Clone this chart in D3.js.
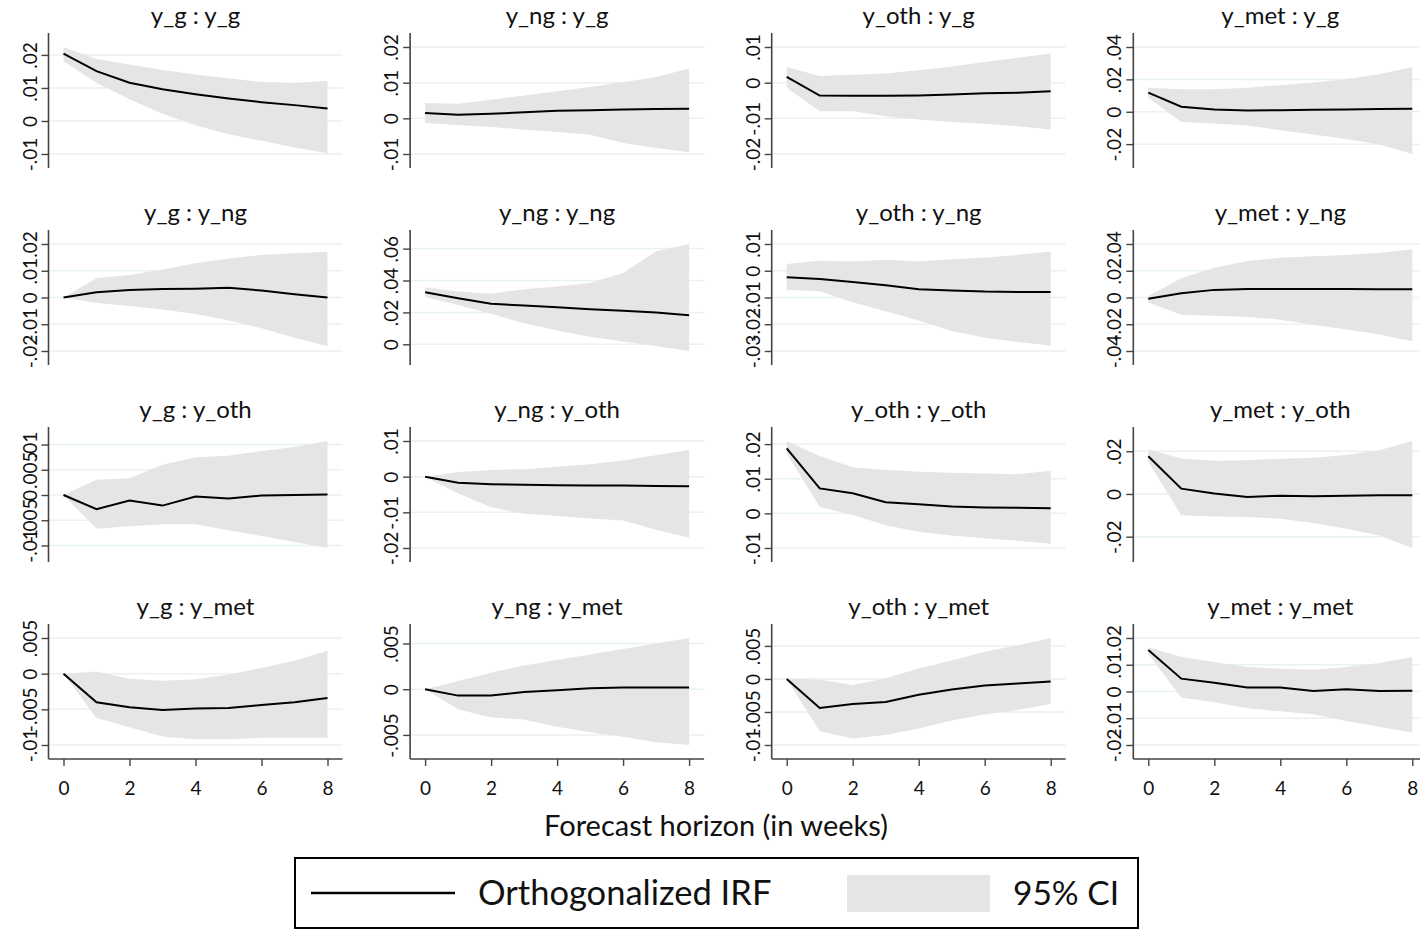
<!DOCTYPE html>
<html>
<head>
<meta charset="utf-8">
<title>Orthogonalized IRF</title>
<script src="https://cdn.jsdelivr.net/npm/d3@7"></script>
<style>
  body { margin: 0; background: #fff; }
  text { font-family: Lato, "Open Sans", sans-serif; fill: #111; }
</style>
</head>
<body>
<script>
  const horizon = [0, 1, 2, 3, 4, 5, 6, 7, 8];
  const impulses = ['y_g', 'y_ng', 'y_oth', 'y_met'];
  const responses = ['y_g', 'y_ng', 'y_oth', 'y_met'];
  const xTicks = [0, 2, 4, 6, 8];

  // response y_g
  const irf_g_g = [0.0204, 0.0151, 0.0116, 0.0096, 0.0081, 0.0068, 0.0057, 0.0048, 0.0038];
  const hi_g_g = [0.0224, 0.0188, 0.0171, 0.0154, 0.0141, 0.0129, 0.0118, 0.0116, 0.0121];
  const lo_g_g = [0.0181, 0.0116, 0.0066, 0.0022, -0.0013, -0.0040, -0.0060, -0.0080, -0.0098];
  const irf_ng_g = [0.0015, 0.0010, 0.0013, 0.0017, 0.0021, 0.0023, 0.0025, 0.0026, 0.0027];
  const hi_ng_g = [0.0043, 0.0041, 0.0052, 0.0064, 0.0076, 0.0088, 0.0101, 0.0116, 0.0140];
  const lo_ng_g = [-0.0013, -0.0019, -0.0024, -0.0032, -0.0038, -0.0046, -0.0069, -0.0083, -0.0095];
  const irf_oth_g = [0.0016, -0.0036, -0.0037, -0.0037, -0.0036, -0.0033, -0.0030, -0.0028, -0.0024];
  const hi_oth_g = [0.0044, 0.0019, 0.0022, 0.0026, 0.0035, 0.0045, 0.0058, 0.0070, 0.0082];
  const lo_oth_g = [-0.0014, -0.0080, -0.0080, -0.0094, -0.0103, -0.0110, -0.0115, -0.0122, -0.0131];
  const irf_met_g = [0.0118, 0.0031, 0.0014, 0.0008, 0.0010, 0.0012, 0.0014, 0.0017, 0.0019];
  const hi_met_g = [0.0149, 0.0139, 0.0139, 0.0149, 0.0164, 0.0180, 0.0201, 0.0232, 0.0277];
  const lo_met_g = [0.0087, -0.0064, -0.0072, -0.0085, -0.0114, -0.0141, -0.0168, -0.0203, -0.0261];

  // response y_ng
  const irf_g_ng = [0, 0.0020, 0.0028, 0.0032, 0.0033, 0.0036, 0.0026, 0.0012, 0.0000];
  const hi_g_ng = [0, 0.0072, 0.0084, 0.0105, 0.0128, 0.0146, 0.0159, 0.0165, 0.0171];
  const lo_g_ng = [0, -0.0021, -0.0032, -0.0045, -0.0062, -0.0085, -0.0115, -0.0150, -0.0182];
  const irf_ng_ng = [0.0327, 0.0289, 0.0254, 0.0243, 0.0233, 0.0220, 0.0210, 0.0199, 0.0182];
  const hi_ng_ng = [0.0358, 0.0331, 0.0317, 0.0346, 0.0363, 0.0384, 0.0447, 0.0583, 0.0629];
  const lo_ng_ng = [0.0296, 0.0247, 0.0191, 0.0132, 0.0086, 0.0048, 0.0017, -0.0010, -0.0042];
  const irf_oth_ng = [-0.0024, -0.0031, -0.0042, -0.0054, -0.0069, -0.0074, -0.0078, -0.0079, -0.0079];
  const hi_oth_ng = [0.0025, 0.0037, 0.0035, 0.0041, 0.0035, 0.0043, 0.0050, 0.0059, 0.0072];
  const lo_oth_ng = [-0.0071, -0.0077, -0.0118, -0.0151, -0.0186, -0.0225, -0.0250, -0.0266, -0.0279];
  const irf_met_ng = [-0.0010, 0.0032, 0.0057, 0.0064, 0.0064, 0.0064, 0.0064, 0.0062, 0.0062];
  const hi_met_ng = [0.0012, 0.0144, 0.0223, 0.0272, 0.0297, 0.0309, 0.0317, 0.0334, 0.0361];
  const lo_met_ng = [-0.0037, -0.0129, -0.0136, -0.0146, -0.0166, -0.0203, -0.0240, -0.0277, -0.0327];

  // response y_oth
  const irf_g_oth = [0, -0.0028, -0.0011, -0.0021, -0.0003, -0.0007, -0.0001, 0.0000, 0.0001];
  const hi_g_oth = [0, 0.0030, 0.0033, 0.0060, 0.0075, 0.0078, 0.0087, 0.0095, 0.0107];
  const lo_g_oth = [0, -0.0067, -0.0062, -0.0058, -0.0058, -0.0070, -0.0081, -0.0093, -0.0105];
  const irf_ng_oth = [0, -0.0017, -0.0021, -0.0023, -0.0024, -0.0025, -0.0025, -0.0026, -0.0027];
  const hi_ng_oth = [0, 0.0013, 0.0019, 0.0021, 0.0028, 0.0035, 0.0045, 0.0060, 0.0075];
  const lo_ng_oth = [0, -0.0047, -0.0086, -0.0104, -0.0110, -0.0117, -0.0123, -0.0149, -0.0171];
  const irf_oth_oth = [0.0188, 0.0072, 0.0058, 0.0032, 0.0026, 0.0020, 0.0017, 0.0016, 0.0015];
  const hi_oth_oth = [0.0209, 0.0166, 0.0133, 0.0125, 0.0120, 0.0117, 0.0115, 0.0113, 0.0123];
  const lo_oth_oth = [0.0173, 0.0019, -0.0005, -0.0034, -0.0053, -0.0064, -0.0072, -0.0079, -0.0088];
  const irf_met_oth = [0.0177, 0.0025, 0.0002, -0.0014, -0.0008, -0.0011, -0.0008, -0.0006, -0.0006];
  const hi_met_oth = [0.0209, 0.0166, 0.0155, 0.0158, 0.0165, 0.0169, 0.0182, 0.0205, 0.0248];
  const lo_met_oth = [0.0151, -0.0100, -0.0105, -0.0108, -0.0116, -0.0136, -0.0163, -0.0195, -0.0253];

  // response y_met
  const irf_g_met = [0, -0.0040, -0.0047, -0.0051, -0.0049, -0.0048, -0.0044, -0.0040, -0.0034];
  const hi_g_met = [0, 0.0003, -0.0007, -0.0010, -0.0008, -0.0001, 0.0008, 0.0018, 0.0032];
  const lo_g_met = [0, -0.0062, -0.0075, -0.0088, -0.0092, -0.0092, -0.0090, -0.0090, -0.0090];
  const irf_ng_met = [0, -0.0007, -0.0007, -0.0003, -0.0001, 0.0001, 0.0002, 0.0002, 0.0002];
  const hi_ng_met = [0, 0.0009, 0.0018, 0.0026, 0.0032, 0.0038, 0.0044, 0.0050, 0.0056];
  const lo_ng_met = [0, -0.0022, -0.0031, -0.0033, -0.0041, -0.0047, -0.0052, -0.0058, -0.0061];
  const irf_oth_met = [0, -0.0044, -0.0038, -0.0035, -0.0024, -0.0016, -0.0010, -0.0007, -0.0004];
  const hi_oth_met = [0, -0.0001, -0.0009, 0.0001, 0.0016, 0.0028, 0.0041, 0.0051, 0.0062];
  const lo_oth_met = [0, -0.0079, -0.0090, -0.0085, -0.0075, -0.0063, -0.0054, -0.0047, -0.0038];
  const irf_met_met = [0.0155, 0.0048, 0.0033, 0.0015, 0.0015, 0.0002, 0.0008, 0.0002, 0.0003];
  const hi_met_met = [0.0165, 0.0129, 0.0110, 0.0092, 0.0085, 0.0081, 0.0092, 0.0107, 0.0129];
  const lo_met_met = [0.0140, -0.0022, -0.0040, -0.0063, -0.0074, -0.0085, -0.0110, -0.0132, -0.0154];

  // y tick values, one row per response, one entry per impulse
  const yTicks_g = [[-.01, 0, .01, .02], [-.01, 0, .01, .02], [-.02, -.01, 0, .01], [-.02, 0, .02, .04]];
  const yTicks_ng = [[-.02, -.01, 0, .01, .02], [0, .02, .04, .06], [-.03, -.02, -.01, 0, .01], [-.04, -.02, 0, .02, .04]];
  const yTicks_oth = [[-.01, -.005, 0, .005, .01], [-.02, -.01, 0, .01], [-.01, 0, .01, .02], [-.02, 0, .02]];
  const yTicks_met = [[-.01, -.005, 0, .005], [-.005, 0, .005], [-.01, -.005, 0, .005], [-.02, -.01, 0, .01, .02]];

  const grid = [
    [[irf_g_g, lo_g_g, hi_g_g], [irf_ng_g, lo_ng_g, hi_ng_g], [irf_oth_g, lo_oth_g, hi_oth_g], [irf_met_g, lo_met_g, hi_met_g]],
    [[irf_g_ng, lo_g_ng, hi_g_ng], [irf_ng_ng, lo_ng_ng, hi_ng_ng], [irf_oth_ng, lo_oth_ng, hi_oth_ng], [irf_met_ng, lo_met_ng, hi_met_ng]],
    [[irf_g_oth, lo_g_oth, hi_g_oth], [irf_ng_oth, lo_ng_oth, hi_ng_oth], [irf_oth_oth, lo_oth_oth, hi_oth_oth], [irf_met_oth, lo_met_oth, hi_met_oth]],
    [[irf_g_met, lo_g_met, hi_g_met], [irf_ng_met, lo_ng_met, hi_ng_met], [irf_oth_met, lo_oth_met, hi_oth_met], [irf_met_met, lo_met_met, hi_met_met]]
  ];
  const tickRows = [yTicks_g, yTicks_ng, yTicks_oth, yTicks_met];

  const width = 1420, height = 930;
  const colX0 = 48.5, colStep = 361.6;
  const rowY0 = 33, rowStep = 197, panelH = 135, pad = 14;

  const svg = d3.select('body').append('svg')
    .attr('width', width)
    .attr('height', height);

  // Stata style labels: .02 instead of 0.02
  function stataFmt(v) {
    return String(v).replace('0.', '.');
  }

  responses.forEach(function (resp, r) {
    impulses.forEach(function (imp, c) {
      const ax = colX0 + c * colStep;
      const top = rowY0 + r * rowStep;
      const [irf, lo, hi] = grid[r][c];
      const ticks = tickRows[r][c];

      const x = d3.scaleLinear().domain([0, 8]).range([ax + 15, ax + 279]);
      const ymin = d3.min([...ticks, ...lo]);
      const ymax = d3.max([...ticks, ...hi]);
      const y = d3.scaleLinear().domain([ymin, ymax]).range([top + panelH - pad, top + pad]);

      const g = svg.append('g');

      // gridlines
      g.selectAll('line.grid').data(ticks).enter()
        .append('line')
        .attr('x1', ax).attr('x2', ax + 294)
        .attr('y1', d => y(d)).attr('y2', d => y(d))
        .attr('stroke', '#e8f1f3')
        .attr('stroke-width', 1.5);

      // CI band
      const area = d3.area()
        .x((d, i) => x(horizon[i]))
        .y0((d, i) => y(lo[i]))
        .y1((d, i) => y(hi[i]));
      g.append('path').datum(horizon)
        .attr('d', area)
        .attr('fill', '#e5e5e5');

      // IRF line
      const line = d3.line()
        .x((d, i) => x(horizon[i]))
        .y((d, i) => y(irf[i]));
      g.append('path').datum(horizon)
        .attr('d', line)
        .attr('fill', 'none')
        .attr('stroke', '#000')
        .attr('stroke-width', 2);

      // y axis
      const yAxis = d3.axisLeft(y).tickValues(ticks).tickSize(7).tickFormat(stataFmt);
      const ya = g.append('g').attr('transform', `translate(${ax},0)`).call(yAxis);
      ya.select('.domain').remove();
      ya.selectAll('.tick line').attr('stroke', '#444').attr('stroke-width', 1.4);
      ya.selectAll('.tick text')
        .attr('x', 0).attr('dy', 0).attr('y', -12)
        .attr('transform', 'rotate(-90)')
        .attr('text-anchor', 'middle')
        .attr('font-size', 19)
        .attr('font-family', 'Lato, sans-serif')
        .attr('fill', '#111');
      g.append('line')
        .attr('x1', ax).attr('x2', ax)
        .attr('y1', top).attr('y2', top + panelH)
        .attr('stroke', '#444').attr('stroke-width', 1.6);

      // panel title
      g.append('text')
        .attr('x', (x(0) + x(8)) / 2)
        .attr('y', top - 9)
        .attr('text-anchor', 'middle')
        .attr('font-size', 24)
        .text(imp + ' : ' + resp);

      // x axis on bottom row only
      if (r === responses.length - 1) {
        const xAxis = d3.axisBottom(x).tickValues(xTicks).tickSize(7);
        const xa = g.append('g').attr('transform', `translate(0,${top + panelH})`).call(xAxis);
        xa.select('.domain').remove();
        xa.selectAll('.tick line').attr('stroke', '#444').attr('stroke-width', 1.4);
        xa.selectAll('.tick text')
          .attr('y', 29).attr('dy', '0.35em')
          .attr('font-size', 19)
          .attr('font-family', 'Lato, sans-serif')
          .attr('fill', '#111');
        g.append('line')
          .attr('x1', ax).attr('x2', ax + 294)
          .attr('y1', top + panelH).attr('y2', top + panelH)
          .attr('stroke', '#444').attr('stroke-width', 1.6);
      }
    });
  });

  // x axis title
  svg.append('text')
    .attr('x', 716).attr('y', 836)
    .attr('text-anchor', 'middle')
    .attr('font-size', 29)
    .text('Forecast horizon (in weeks)');

  // legend
  const leg = svg.append('g');
  leg.append('rect')
    .attr('x', 295).attr('y', 858).attr('width', 843).attr('height', 70)
    .attr('fill', '#fff').attr('stroke', '#000').attr('stroke-width', 2);
  leg.append('line')
    .attr('x1', 311).attr('x2', 455).attr('y1', 893).attr('y2', 893)
    .attr('stroke', '#000').attr('stroke-width', 2.5);
  leg.append('text')
    .attr('x', 478).attr('y', 905)
    .attr('font-size', 34.5)
    .text('Orthogonalized IRF');
  leg.append('rect')
    .attr('x', 847).attr('y', 875).attr('width', 143).attr('height', 37)
    .attr('fill', '#e5e5e5');
  leg.append('text')
    .attr('x', 1013).attr('y', 905)
    .attr('font-size', 33.5)
    .text('95% CI');
</script>
</body>
</html>
